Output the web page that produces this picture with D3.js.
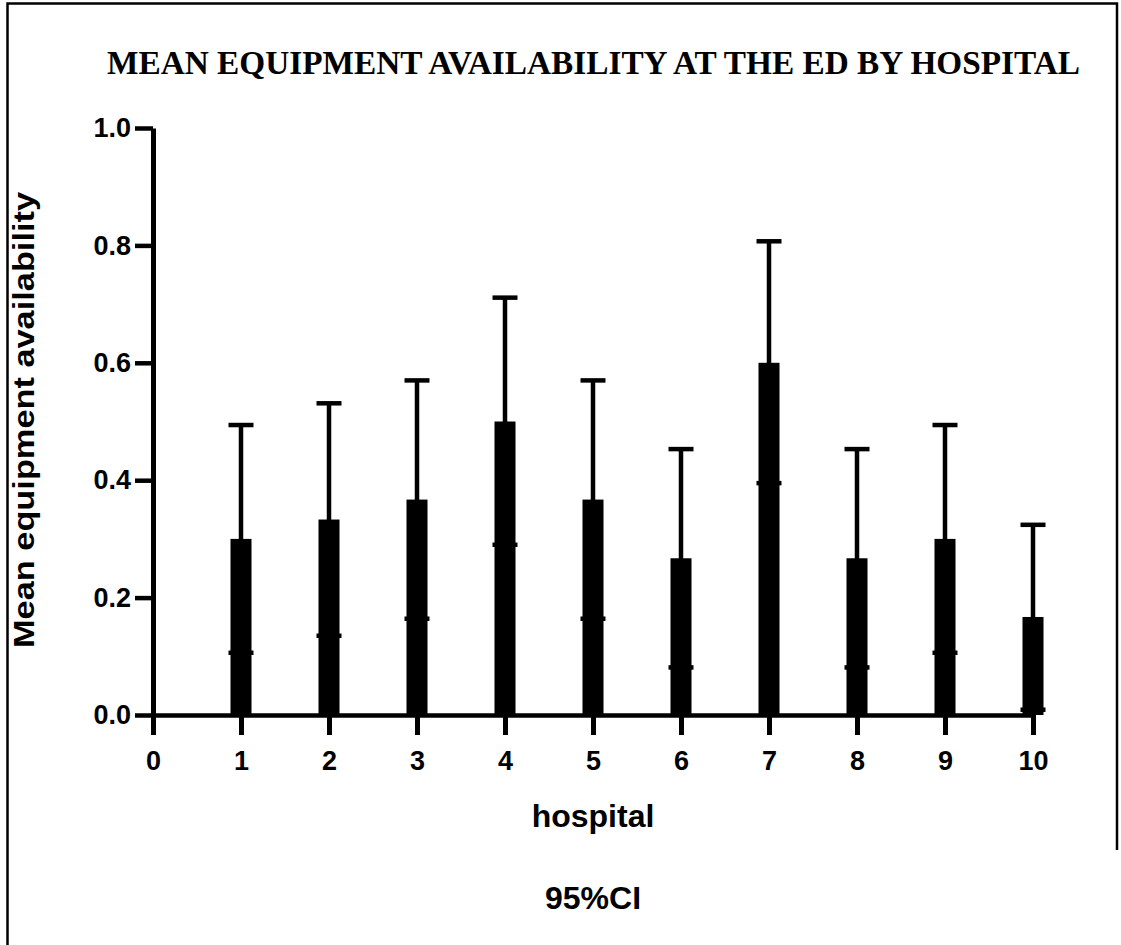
<!DOCTYPE html>
<html>
<head>
<meta charset="utf-8">
<script src="https://cdn.jsdelivr.net/npm/d3@7"></script>
<style>
  html, body { margin: 0; padding: 0; background: #fff; }
  svg { display: block; }
</style>
</head>
<body>
<script>
const hospitals = [1, 2, 3, 4, 5, 6, 7, 8, 9, 10];
const means = [0.300, 0.333, 0.367, 0.500, 0.367, 0.267, 0.600, 0.267, 0.300, 0.167];
const lowerCI = [0.106, 0.135, 0.164, 0.290, 0.164, 0.081, 0.395, 0.081, 0.106, 0.009];
const upperCI = [0.494, 0.531, 0.570, 0.711, 0.570, 0.453, 0.807, 0.453, 0.494, 0.324];
const xTicks = [0, 1, 2, 3, 4, 5, 6, 7, 8, 9, 10];
const yTicks = [0.0, 0.2, 0.4, 0.6, 0.8, 1.0];

const W = 1121, H = 945;
const svg = d3.select("body").append("svg").attr("width", W).attr("height", H);

// frame
svg.append("path")
  .attr("d", "M7.5,945 L7.5,3.5 L1117,3.5 L1117,850")
  .attr("fill", "none").attr("stroke", "#000").attr("stroke-width", 2.5);

const x = d3.scaleLinear().domain([0, 10]).range([153, 1033]);
const y = d3.scaleLinear().domain([0, 1]).range([715, 128]);
const sans = "'Liberation Sans', Arial, sans-serif";

// title
svg.append("text")
  .attr("x", 593.5).attr("y", 74).attr("text-anchor", "middle")
  .attr("textLength", 973).attr("lengthAdjust", "spacingAndGlyphs")
  .attr("font-family", "'Liberation Serif', 'Times New Roman', serif")
  .attr("font-weight", "bold").attr("font-size", 34)
  .text("MEAN EQUIPMENT AVAILABILITY AT THE ED BY HOSPITAL");

const data = hospitals.map((h, i) => ({ h, m: means[i], lo: lowerCI[i], hi: upperCI[i] }));
const barW = 21, capW = 25;

const g = svg.append("g");
g.selectAll("line.stem").data(data).enter().append("line")
  .attr("x1", d => x(d.h)).attr("x2", d => x(d.h))
  .attr("y1", d => y(d.hi)).attr("y2", d => y(d.lo))
  .attr("stroke", "#000").attr("stroke-width", 4.5);
g.selectAll("line.cap").data(data).enter().append("line")
  .attr("x1", d => x(d.h) - capW / 2).attr("x2", d => x(d.h) + capW / 2)
  .attr("y1", d => y(d.hi)).attr("y2", d => y(d.hi))
  .attr("stroke", "#000").attr("stroke-width", 4.5);
g.selectAll("rect").data(data).enter().append("rect")
  .attr("x", d => x(d.h) - barW / 2).attr("width", barW)
  .attr("y", d => y(d.m)).attr("height", d => y(0) - y(d.m))
  .attr("fill", "#000");
g.selectAll("line.lcap").data(data).enter().append("line")
  .attr("x1", d => x(d.h) - capW / 2).attr("x2", d => x(d.h) + capW / 2)
  .attr("y1", d => y(d.lo)).attr("y2", d => y(d.lo))
  .attr("stroke", "#000").attr("stroke-width", 4.5);

// y axis
const yAxis = svg.append("g").attr("transform", `translate(${x(0)},0)`)
  .call(d3.axisLeft(y).tickValues(yTicks).tickFormat(d3.format(".1f")).tickSize(18).tickSizeOuter(0).tickPadding(4));
yAxis.select(".domain").attr("stroke-width", 5).attr("stroke", "#000");
yAxis.selectAll(".tick line").attr("stroke-width", 4.5).attr("stroke", "#000");
yAxis.selectAll(".tick text").attr("font-family", sans).attr("font-weight", "bold")
  .attr("font-size", 27).attr("fill", "#000");

// x axis
const xAxis = svg.append("g").attr("transform", `translate(0,${y(0)})`)
  .call(d3.axisBottom(x).tickValues(xTicks).tickFormat(d3.format("d")).tickSize(20).tickSizeOuter(0).tickPadding(16));
xAxis.select(".domain").attr("stroke-width", 4.5).attr("stroke", "#000");
xAxis.selectAll(".tick line").attr("stroke-width", 5).attr("stroke", "#000");
xAxis.selectAll(".tick text").attr("font-family", sans).attr("font-weight", "bold")
  .attr("font-size", 27).attr("fill", "#000");

// axis titles
svg.append("text")
  .attr("transform", "translate(34,420) rotate(-90)")
  .attr("text-anchor", "middle")
  .attr("textLength", 456).attr("lengthAdjust", "spacingAndGlyphs")
  .attr("font-family", sans).attr("font-weight", "bold").attr("font-size", 30)
  .text("Mean equipment availability");

svg.append("text")
  .attr("x", 593).attr("y", 827).attr("text-anchor", "middle")
  .attr("font-family", sans).attr("font-weight", "bold").attr("font-size", 32)
  .text("hospital");

svg.append("text")
  .attr("x", 593).attr("y", 909).attr("text-anchor", "middle")
  .attr("font-family", sans).attr("font-weight", "bold").attr("font-size", 32)
  .text("95%CI");
</script>
</body>
</html>
